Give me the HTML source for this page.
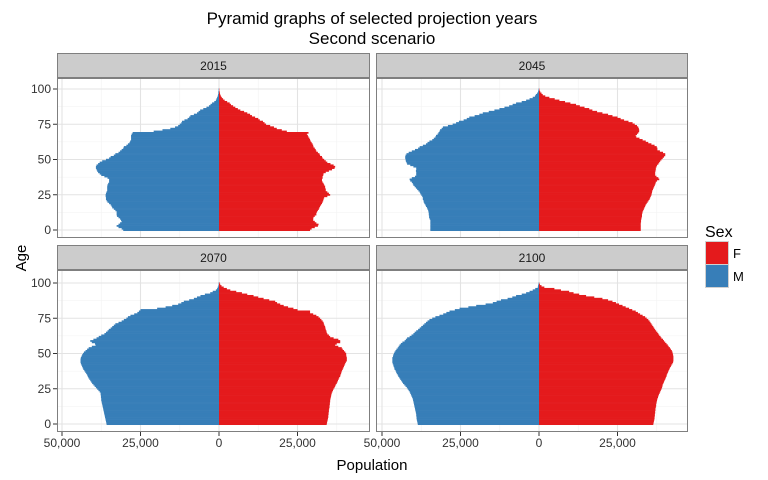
<!DOCTYPE html>
<html><head><meta charset="utf-8"><style>
body{margin:0;background:#fff;}
svg{display:block;font-family:"Liberation Sans",Arial,sans-serif;}
</style></head><body>
<svg id="chart" width="768" height="480" viewBox="0 0 768 480">
<text x="372" y="24" text-anchor="middle" font-size="17" fill="#000">Pyramid graphs of selected projection years</text>
<text x="372" y="44" text-anchor="middle" font-size="17" fill="#000">Second scenario</text>
<text x="372" y="470" text-anchor="middle" font-size="15" fill="#000">Population</text>
<text transform="translate(26,258) rotate(-90)" text-anchor="middle" font-size="15" fill="#000">Age</text>
<g>
<text x="705" y="237" font-size="16" fill="#000">Sex</text>
<rect x="705.5" y="241.5" width="23" height="23" fill="#e41a1c" stroke="#d0d0d0"/>
<text x="733" y="258" font-size="13" fill="#000">F</text>
<rect x="705.5" y="264.5" width="23" height="23" fill="#377eb8" stroke="#d0d0d0"/>
<text x="733" y="281" font-size="13" fill="#000">M</text>
</g>
<g id="panels"></g>
</svg>
<script>
const years = ["2015","2045","2070","2100"];
const xTicks = [-50000,-25000,0,25000];
const xTickLabels = ["50,000","25,000","0","25,000"];
const yTicks = [0,25,50,75,100];
// values in thousands, ages 0..100
const m2015 = [30.5,31,32,32.6,32, 31.5,31,31.2,31.5,32, 32.5,32.6,32.6,32.6,33, 33.5,34,34.2,34.5,35, 35.5,35.8,36,36,36.1, 36.1,36,35.8,35.6,35.6, 35.6,35.6,35.5,35.3,35, 35,35,35.5,36.5,37.5, 38,38.5,38.8,39,39.2, 39.2,39,38.5,38,37.2, 36,35,34.5,33.5,33, 32,31.5,31,30.5,30.3, 29.5,29,28.5,28.3,28, 28,28,28,27.8,27.5, 20.8,18,15.5,14,13, 12.5,12,11.8,11,10, 9.5,9.1,8,7,6.5, 6,5,4,3.2,2.7, 2.2,1.5,1,0.8,0.6, 0.4,0.3,0.2,0.2,0.1,0.1];
const f2015 = [29,29.5,30.5,31.5,31.7, 31,30.5,30,30,30.1, 30.5,31,31,31.2,31.5, 31.8,32,32.2,32.5,32.8, 33,33.2,33.3,33.5,34.5, 35.4,35,34.5,34,34, 33.8,33.8,33.5,33.3,33, 32.8,32.8,33,33,33.2, 33.3,34,35,36,36.8, 37,36.5,35.5,34.5,34, 33.5,33,32.8,32.2,32, 31.5,31,30.8,30.5,30.1, 30,29.8,29.5,29.2,29, 28.8,28.5,28.3,28,28.5, 21.6,20,18.4,17.5,16.3, 15,14.5,14,13,12.5, 11.5,10.5,9.9,9,8, 6.8,6,5.2,4.5,3.8, 3.4,2.6,1.8,1.3,0.9, 0.6,0.4,0.3,0.2,0.1,0.1];
const m2045 = [34.6,34.6,34.6,34.6,34.6, 34.6,34.6,34.6,34.8,35, 35,35.1,35.1,35.2,35.3, 35.5,35.7,36,36.2,36.5, 36.7,36.8,37,37,37.2, 37.5,37.8,38,38.4,38.8, 39.2,39.6,40,40.2,40.5, 41,41.2,40.5,39.5,39.1, 39.1,39.1,39.2,39.1,39.1, 40,41,42,42.2,42.4, 42.5,42.6,42.6,42.5,42.2, 41.5,40.5,39.5,38.5,38, 37,36,35.5,34.9,34, 33.5,33,32.8,32.3,32, 31.7,31.5,31,30.6,29, 27.5,26.4,25.5,24,23, 22.2,20.5,19,17.9,16, 14.2,12.6,11,9.5,8.4, 7.3,5.5,4.1,3,2, 1.3,1,0.6,0.3,0.2,0.1];
const f2045 = [32.4,32.4,32.4,32.4,32.4, 32.4,32.5,32.5,32.6,32.7, 32.8,32.8,32.9,33,33.2, 33.4,33.6,33.8,34,34.3, 34.6,34.9,35.2,35.4,35.6, 35.8,35.9,36,36.1,36.3, 36.5,36.7,36.9,37.1,37.2, 37.6,38.3,38,37.4,37, 37,37,37.1,37.2,37.2, 37.4,37.6,38,38.3,38.6, 39,39.4,39.8,40.2,40.2, 39.5,38.5,37.7,37.7,37.5, 36.8,35.8,34.8,34,33, 32,31,30.8,31.2,31.6, 31.9,31.9,31.8,31.6,31.2, 30.5,29.8,28.5,27.1,26, 25,23.4,22,20.2,18.5, 17,16,14.5,13,11.8, 10,8.3,6.5,5,3.3, 2,1.2,0.8,0.4,0.2,0.1];
const m2070 = [35.8,35.9,36,36.1,36.2, 36.3,36.4,36.5,36.6,36.7, 36.8,36.9,37,37.1,37.2, 37.3,37.4,37.5,37.5,37.6, 37.6,37.7,37.7,38,38.4, 38.8,39.2,39.6,40,40.4, 40.7,41,41.3,41.6,41.8, 42,42.3,42.6,42.9,43.2, 43.4,43.6,43.8,44,44.1, 44.1,44.1,44,43.8,43.6, 43.3,43,42.5,42,41.5, 40.5,39.3,39.5,40.5,41, 40,39,38.3,37.5,36.5, 36,35.5,35.1,34.5,34, 33.5,33,32,31,30.3, 29.5,29,28.2,27,26, 25.5,25,19.7,17,14.9, 13,12,11.2,9.5,8, 7,5.9,4.5,2.8,2, 1,0.6,0.4,0.2,0.1,0.1];
const f2070 = [34.3,34.4,34.5,34.6,34.7, 34.8,34.8,34.9,34.9,35, 35,35.1,35.2,35.2,35.3, 35.3,35.4,35.4,35.5,35.6, 35.7,35.8,35.9,36.1,36.3, 36.5,36.8,37,37.2,37.5, 37.7,37.9,38.1,38.3,38.6, 38.7,38.9,39,39.2,39.4, 39.6,39.8,40,40.2,40.4, 40.7,40.7,40.7,40.6,40.5, 40.5,40.2,39.8,39.4,39.1, 38,37,37.5,38.6,38.6, 38,36.5,35.4,35,34.5, 34.3,34.2,34,33.9,33.8, 33.6,33.4,33.3,33,32.6, 32.2,31.7,31,30,29, 29,25,23.7,22,20.6, 19.5,18.5,17.9,16,14.2, 12.5,11,9,7.3,5.5, 3.6,2.5,1.5,0.8,0.4,0.2];
const m2100 = [38.6,38.7,38.8,38.9,39, 39,39.1,39.1,39.2,39.3, 39.4,39.5,39.6,39.7,39.8, 39.9,40,40.1,40.2,40.4, 40.6,40.8,41,41.2,41.5, 41.8,42.1,42.5,42.9,43.3, 43.6,43.9,44.2,44.5,44.8, 45,45.3,45.5,45.7,46, 46.1,46.3,46.4,46.6,46.7, 46.7,46.7,46.7,46.5,46.4, 46.2,46,45.7,45.4,45, 44.7,44.4,44,43.5,42.8, 42.4,42,41.2,40.6,40, 39.6,39.1,38.5,38,37.5, 37,36.5,36,35.5,34.9, 34,33,31.7,30.5,29.5, 28.5,26.8,25.3,22.5,20, 17,14.7,13.5,12.1,10, 8.5,7.3,5.5,4.1,3, 2,1.2,0.4,0.3,0.2,0.1];
const f2100 = [36.4,36.5,36.6,36.7,36.8, 36.8,36.9,36.9,37,37, 37.1,37.1,37.2,37.3,37.3, 37.4,37.5,37.6,37.7,37.9, 38,38.2,38.4,38.6,38.8, 39,39.2,39.3,39.4,39.6, 39.8,40,40.2,40.4,40.6, 40.7,40.9,41.1,41.3,41.5, 41.7,42,42.2,42.5,42.7, 42.8,42.8,42.8,42.8,42.7, 42.6,42.5,42.3,42,41.7, 41.3,41,40.6,40.2,39.8, 39.5,39,38.7,38.3,38, 37.7,37.3,37,36.7,36.4, 36.1,35.8,35.5,35.2,34.8, 34.3,33.8,33,32.2,31.5, 30.8,29.7,28.7,27.6,26.6, 25.5,24.5,23.4,22,20.2, 17.6,15,12.8,11,9.6, 7,4.9,1.7,0.8,0.3,0.1];
const maleSeries = [m2015,m2045,m2070,m2100];
const femaleSeries = [f2015,f2045,f2070,f2100];

const NS = "http://www.w3.org/2000/svg";
const root = document.getElementById("panels");
function mk(tag, attrs, parent){const e=document.createElementNS(NS,tag);for(const k in attrs)e.setAttribute(k,attrs[k]);parent.appendChild(e);return e;}
const layout = [
  {x0:57,x1:370,zeroX:219,strip:53,top:78,bottom:238,zeroY:230,col:0,row:0},
  {x0:376,x1:688,zeroX:539,strip:53,top:78,bottom:238,zeroY:230,col:1,row:0},
  {x0:57,x1:370,zeroX:219,strip:245,top:270,bottom:432,zeroY:424,col:0,row:1},
  {x0:376,x1:688,zeroX:539,strip:245,top:270,bottom:432,zeroY:424,col:1,row:1}
];
const pxPerUnit = 78.5/25000, pxPerYear = 1.41;
years.forEach((yr,i)=>{
  const L = layout[i];
  const xs = v => L.zeroX + v*pxPerUnit;
  const ys = a => L.zeroY - a*pxPerYear;
  const g = mk("g",{},root);
  
  
  const strip = mk("rect",{x:L.x0+0.5,y:L.strip+0.5,width:L.x1-L.x0-1,height:L.top-L.strip-1,fill:"#cccccc",stroke:"#7f7f7f"},g);
  
  
  const st = mk("text",{x:(L.x0+L.x1)/2,y:L.strip+17,"text-anchor":"middle","font-size":"12",fill:"#1a1a1a"},g);
  st.textContent = yr;
  
  
  mk("rect",{x:L.x0,y:L.top,width:L.x1-L.x0,height:L.bottom-L.top,fill:"#fff"},g);
  [-37500,-12500,12500,37500].forEach(v=>{const x=xs(v); if(x>L.x0&&x<L.x1) mk("line",{x1:x,x2:x,y1:L.top,y2:L.bottom,stroke:"#f2f2f2","stroke-width":"0.6"},g);});
  [12.5,37.5,62.5,87.5].forEach(a=>{const y=ys(a); mk("line",{x1:L.x0,x2:L.x1,y1:y,y2:y,stroke:"#f2f2f2","stroke-width":"0.6"},g);});
  xTicks.forEach(v=>{const x=xs(v); if(x>L.x0&&x<L.x1) mk("line",{x1:x,x2:x,y1:L.top,y2:L.bottom,stroke:"#e3e3e3","stroke-width":"1.1"},g);});
  yTicks.forEach(a=>{const y=ys(a); mk("line",{x1:L.x0,x2:L.x1,y1:y,y2:y,stroke:"#e3e3e3","stroke-width":"1.1"},g);});
  const ms = maleSeries[i], fs = femaleSeries[i];
  ms.forEach((v,a)=>{
    const r = mk("rect",{x:xs(-v*1000),y:ys(a+0.5),width:xs(0)-xs(-v*1000),height:pxPerYear+0.3,fill:"#377eb8"},g);
    
    
  });
  fs.forEach((v,a)=>{
    const r = mk("rect",{x:xs(0),y:ys(a+0.5),width:xs(v*1000)-xs(0),height:pxPerYear+0.3,fill:"#e41a1c"},g);
    
    
  });
  mk("rect",{x:L.x0+0.5,y:L.top+0.5,width:L.x1-L.x0-1,height:L.bottom-L.top-1,fill:"none",stroke:"#7f7f7f"},g);
  if(L.col===0){
    yTicks.forEach(a=>{
      const y=ys(a);
      mk("line",{x1:L.x0-4,x2:L.x0,y1:y,y2:y,stroke:"#333"},g);
      const t=mk("text",{x:L.x0-6,y:y+4,"text-anchor":"end","font-size":"12",fill:"#333"},g);
      t.textContent=a;
      
      
    });
  }
  if(L.row===1){
    xTicks.forEach((v,k)=>{
      const x=xs(v);
      mk("line",{x1:x,x2:x,y1:L.bottom,y2:L.bottom+4,stroke:"#333"},g);
      const t=mk("text",{x:x,y:L.bottom+15,"text-anchor":"middle","font-size":"12",fill:"#333"},g);
      t.textContent=xTickLabels[k];
      
      
    });
  }
});
</script>
</body></html>
